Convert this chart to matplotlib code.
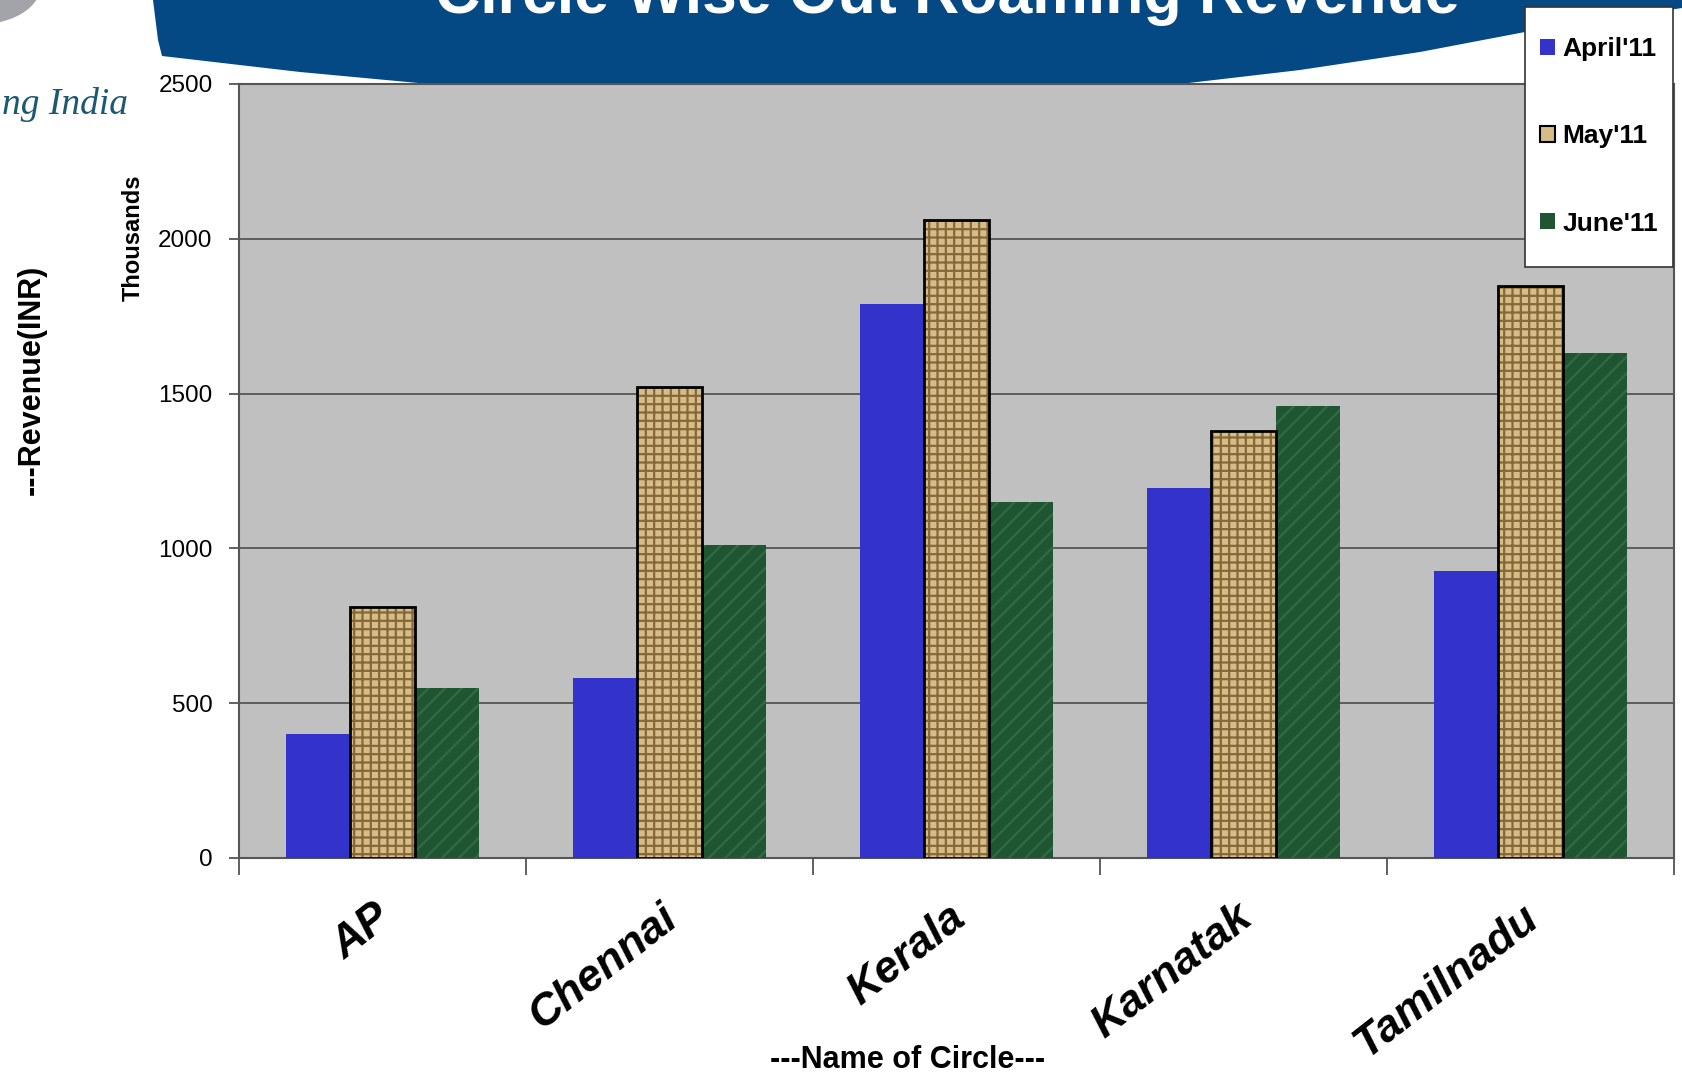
import numpy as np
import matplotlib.pyplot as plt
import matplotlib.transforms as mtransforms
from matplotlib.patches import Polygon, Circle, Patch, Rectangle

circles = ["AP", "Chennai", "Kerala", "Karnatak", "Tamilnadu"]
april = [400, 580, 1790, 1195, 928]
may = [810, 1520, 2060, 1378, 1849]
june = [550, 1010, 1150, 1461, 1631]
series_names = ["April'11", "May'11", "June'11"]
y_ticks = [0, 500, 1000, 1500, 2000, 2500]

W, H = 1682, 1081
plt.rcParams['font.family'] = ['Liberation Sans', 'DejaVu Sans']
plt.rcParams['hatch.linewidth'] = 1.6

fig = plt.figure(figsize=(W / 100, H / 100), dpi=100)
fig.patch.set_facecolor('white')

def px(x, y):
    # pixel (from top-left) -> figure fraction
    return (x / W, 1 - y / H)

# banner across the top
banner_pts = [(153, 0), (158, 40), (162, 56), (300, 72), (429, 84), (1180, 84),
              (1300, 70), (1420, 52), (1525, 32), (1682, 8), (1682, 0)]
fig.add_artist(Polygon([px(*p) for p in banner_pts], closed=True,
                       transform=fig.transFigure, facecolor='#044984',
                       edgecolor='none', zorder=0))
fig.text(*px(947, 13), "Circle Wise Out Roaming Revenue", color='white',
         fontsize=45, fontweight='bold', ha='center', va='baseline', zorder=1)

# logo fragments in the corner
fig.add_artist(Circle(px(-20, -15), 61 / W, transform=fig.transFigure,
                      facecolor='#a3a3aa', edgecolor='none', zorder=0))
fig.text(*px(2, 114), "ng India", color='#1c5870', fontsize=27,
         family='Liberation Serif', style='italic', ha='left', va='baseline')

ax = fig.add_axes([239 / W, 1 - 858 / H, (1674 - 239) / W, (858 - 84) / H])
ax.set_facecolor('#c0c0c0')

x = np.arange(len(circles))
bw = 0.224
ax.bar(x - bw, april, bw, color='#3333cc', edgecolor='none', zorder=3)
ax.bar(x, may, bw, color='#d6bd85', edgecolor='#86683a', hatch='++',
       linewidth=0, zorder=3)
ax.bar(x, may, bw, color='none', edgecolor='black', linewidth=2, zorder=4)
ax.bar(x + bw, june, bw, color='#1f5631', edgecolor='#2f6c45', hatch='//',
       linewidth=0, zorder=3)

ax.set_xlim(-0.5, len(circles) - 0.5)
ax.set_ylim(0, 2500)
ax.set_yticks(y_ticks)
ax.set_yticklabels([str(v) for v in y_ticks], fontsize=17.5)
ax.yaxis.grid(True, color='#555555', linewidth=1.3, zorder=1)
ax.set_axisbelow(True)
ax.tick_params(axis='y', length=7, width=1.3, color='#555555', pad=12)

ax.set_xticks(x)
ax.set_xticklabels(circles, fontsize=32, fontweight='bold', style='italic',
                   rotation=38, ha='right', va='top', rotation_mode='anchor')
ax.set_xticks(np.arange(len(circles) + 1) - 0.5, minor=True)
ax.tick_params(axis='x', which='major', length=0, pad=28)
ax.tick_params(axis='x', which='minor', length=12, width=1.3, color='#555555')
shift = mtransforms.ScaledTranslation(-9 / 100, 0, fig.dpi_scale_trans)
for lab in ax.get_xticklabels():
    lab.set_transform(lab.get_transform() + shift)

for s in ax.spines.values():
    s.set_color('#555555')
    s.set_linewidth(1.5)

fig.text(*px(908, 1060), "---Name of Circle---", fontsize=22, fontweight='bold',
         ha='center', va='center')
fig.text(*px(32, 380), "---Revenue(INR)", fontsize=22, fontweight='bold',
         rotation=90, ha='center', va='center')
fig.text(*px(133, 238), "Thousands", fontsize=17, fontweight='bold',
         rotation=90, ha='center', va='center')

# legend: white box drawn by hand, entries placed inside it
x0, y0 = px(1525, 267)
x1, y1 = px(1673, 7)
fig.add_artist(Rectangle((x0, y0), x1 - x0, y1 - y0, transform=fig.transFigure,
                         facecolor='white', edgecolor='#333333', linewidth=1.2,
                         zorder=5))
handles = [Patch(facecolor='#3333cc', edgecolor='none'),
           Patch(facecolor='#d6bd85', edgecolor='black', linewidth=1.5),
           Patch(facecolor='#1f5631', edgecolor='none')]
leg = fig.legend(handles, series_names, loc='upper left',
                 bbox_to_anchor=px(1540, 37), prop={'weight': 'bold', 'size': 19},
                 frameon=False, borderpad=0, labelspacing=2.4,
                 handlelength=0.55, handleheight=0.55, handletextpad=0.3,
                 borderaxespad=0)
leg.set_zorder(6)

fig.savefig("out.png", dpi=100)
